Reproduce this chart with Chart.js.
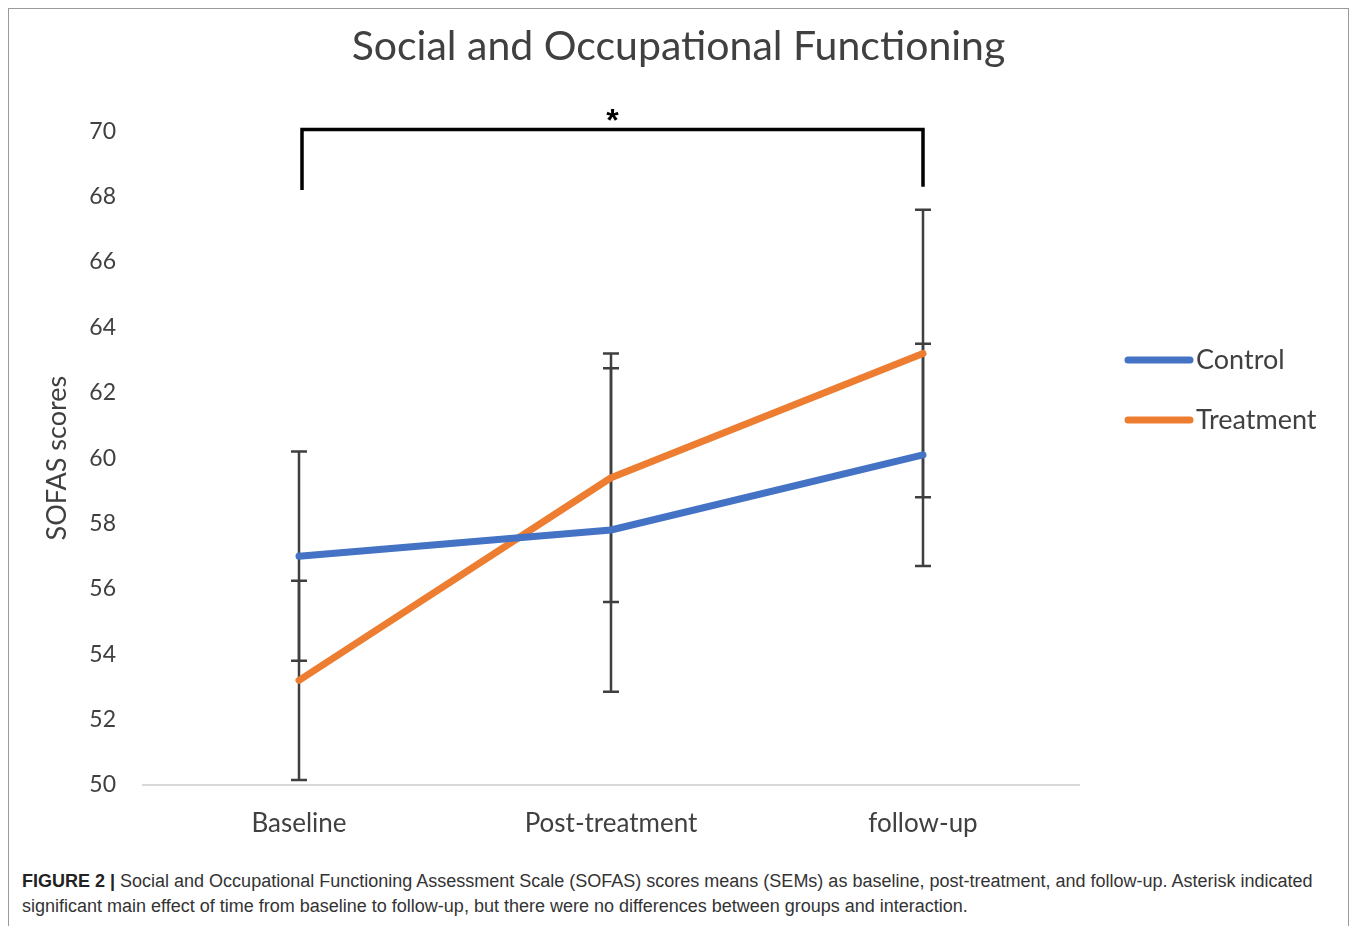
<!DOCTYPE html>
<html>
<head>
<meta charset="utf-8">
<script src="https://cdn.jsdelivr.net/npm/chart.js@4.4.1/dist/chart.umd.min.js"></script>
<style>
  html, body { margin: 0; padding: 0; background: #fff; overflow: hidden; width: 1357px; height: 926px; }
  #frame { position: absolute; left: 8px; top: 8px; width: 1341px; height: 960px; border: 1px solid #9a9a9a; box-sizing: border-box; }
  #wrap { position: absolute; left: 0; top: 0; width: 1357px; height: 860px; }
  #caption { position: absolute; left: 22px; top: 869px; width: 1318px; font-family: "Liberation Sans", Arial, sans-serif;
             font-size: 18px; line-height: 25px; color: #333; }
  #caption b { color: #222; }
</style>
</head>
<body>
<div id="frame"></div>
<div id="wrap"><canvas id="c" width="1357" height="860"></canvas></div>
<div id="caption"><b>FIGURE 2 |</b> Social and Occupational Functioning Assessment Scale (SOFAS) scores means (SEMs) as baseline, post-treatment, and follow-up. Asterisk indicated significant main effect of time from baseline to follow-up, but there were no differences between groups and interaction.</div>
<script>
// Time points and group means with standard errors (SOFAS scores)
const timepoints = ['Baseline', 'Post-treatment', 'follow-up'];
const controlMeans = [57.0, 57.8, 60.1];
const controlSem = [3.2, 4.95, 3.4];
const treatmentMeans = [53.2, 59.4, 63.2];
const treatmentSem = [3.05, 3.8, 4.4];
const yTickValues = [50, 52, 54, 56, 58, 60, 62, 64, 66, 68, 70];

// Main effect of time: bracket from baseline to follow-up
const sigFrom = 0, sigTo = 2;
const sigTop = 70.05, sigLeftEnd = 68.2, sigRightEnd = 68.3;
const sigLabel = '*';

const FONT = 'Lato, "Open Sans", sans-serif';
const TEXT = '#404040';
const BLUE = '#4472C4';
const ORANGE = '#ED7D31';

const semBySeries = [controlSem, treatmentSem];

const errorBarPlugin = {
  id: 'errorBars',
  beforeDatasetsDraw(chart) {
    const ctx = chart.ctx;
    const yScale = chart.scales.y;
    ctx.save();
    ctx.strokeStyle = '#3f3f3f';
    ctx.lineWidth = 2.5;
    chart.data.datasets.forEach((ds, i) => {
      const meta = chart.getDatasetMeta(i);
      meta.data.forEach((pt, j) => {
        const m = ds.data[j], s = semBySeries[i][j];
        const x = pt.x;
        const yHi = yScale.getPixelForValue(m + s);
        const yLo = yScale.getPixelForValue(m - s);
        ctx.beginPath();
        ctx.moveTo(x, yHi); ctx.lineTo(x, yLo);
        ctx.moveTo(x - 8, yHi); ctx.lineTo(x + 8, yHi);
        ctx.moveTo(x - 8, yLo); ctx.lineTo(x + 8, yLo);
        ctx.stroke();
      });
    });
    ctx.restore();
  }
};

const annotationPlugin = {
  id: 'sigAndLegend',
  afterDraw(chart) {
    const ctx = chart.ctx;
    const xs = chart.scales.x, ys = chart.scales.y;
    ctx.save();
    // significance bracket
    const x0 = xs.getPixelForValue(sigFrom) + 3;
    const x1 = xs.getPixelForValue(sigTo);
    const yt = ys.getPixelForValue(sigTop);
    ctx.strokeStyle = '#000';
    ctx.lineWidth = 3.5;
    ctx.lineCap = 'butt';
    ctx.beginPath();
    ctx.moveTo(x0, ys.getPixelForValue(sigLeftEnd));
    ctx.lineTo(x0, yt);
    ctx.lineTo(x1, yt);
    ctx.lineTo(x1, ys.getPixelForValue(sigRightEnd));
    ctx.stroke();
    ctx.fillStyle = '#000';
    ctx.font = 'bold 32px "Liberation Sans", Arial, sans-serif';
    ctx.textAlign = 'center';
    ctx.textBaseline = 'middle';
    ctx.fillText(sigLabel, (x0 + x1) / 2, yt - 7);

    // legend
    const lx = chart.chartArea.right + 49;
    const rows = [360, 420];
    ctx.font = '27px ' + FONT;
    ctx.textAlign = 'left';
    ctx.lineCap = 'round';
    chart.data.datasets.forEach((ds, i) => {
      const y = rows[i];
      ctx.strokeStyle = ds.borderColor;
      ctx.lineWidth = 7;
      ctx.beginPath();
      ctx.moveTo(lx, y); ctx.lineTo(lx + 62, y);
      ctx.stroke();
      ctx.fillStyle = TEXT;
      ctx.fillText(ds.label, lx + 68, y);
    });
    ctx.restore();
  }
};

new Chart(document.getElementById('c'), {
  type: 'line',
  data: {
    labels: timepoints,
    datasets: [
      { label: 'Control', data: controlMeans, borderColor: BLUE, backgroundColor: BLUE,
        borderWidth: 7, borderCapStyle: 'round', borderJoinStyle: 'round', pointRadius: 0, tension: 0 },
      { label: 'Treatment', data: treatmentMeans, borderColor: ORANGE, backgroundColor: ORANGE,
        borderWidth: 7, borderCapStyle: 'round', borderJoinStyle: 'round', pointRadius: 0, tension: 0 }
    ]
  },
  options: {
    responsive: false,
    animation: false,
    layout: { padding: { left: 0, right: 0, top: 0, bottom: 15 } },
    plugins: {
      legend: { display: false },
      tooltip: { enabled: false },
      title: {
        display: true,
        text: 'Social and Occupational Functioning',
        color: TEXT,
        font: { family: FONT, size: 41, weight: 'normal' },
        padding: { top: 22, bottom: 60 }
      }
    },
    scales: {
      x: {
        offset: true,
        grid: { display: false, drawTicks: false },
        border: { display: true, color: '#d9d9d9', width: 2 },
        ticks: { color: TEXT, font: { family: FONT, size: 26 }, padding: 23 },
        afterFit(scale) { scale.height = 60; }
      },
      y: {
        min: 50, max: 70,
        afterBuildTicks(scale) { scale.ticks = yTickValues.map(v => ({ value: v })); },
        grid: { display: false, drawTicks: false },
        border: { display: false },
        ticks: { color: TEXT, font: { family: FONT, size: 23 }, padding: 27 },
        title: { display: true, text: 'SOFAS scores', color: TEXT,
                 font: { family: FONT, size: 27 }, padding: { top: 41, bottom: 0 } },
        afterFit(scale) { scale.width = 143; }
      },
      // empty right-hand axis that reserves room for the legend
      legendSpace: {
        type: 'linear',
        position: 'right',
        grid: { display: false, drawTicks: false },
        border: { display: false },
        ticks: { display: false },
        afterFit(scale) { scale.width = 278; }
      }
    }
  },
  plugins: [errorBarPlugin, annotationPlugin]
});
</script>
</body>
</html>
